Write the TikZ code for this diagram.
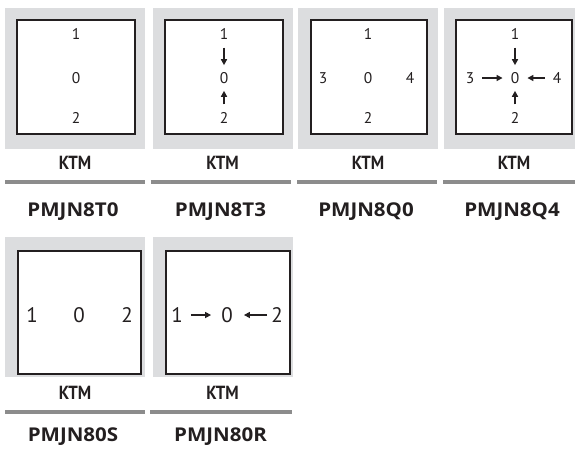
\documentclass[tikz,border=0pt]{standalone}
\usepackage{fontspec}
\setmainfont{PT Sans}
\newfontfamily\codefont[FakeStretch=1.08]{Open Sans}
\newfontfamily\brandfont[FakeStretch=0.88]{PT Sans}
\usetikzlibrary{arrows.meta}
\definecolor{tilegrey}{HTML}{DCDDDF}
\definecolor{rulegrey}{HTML}{8C8C8C}
\definecolor{ink}{HTML}{231F20}
\tikzset{
  tile/.style={fill=tilegrey, draw=none},
  whitebox/.style={fill=white, draw=ink, line width=1.8pt},
  dig/.style={inner sep=0pt, text=ink, font=\fontsize{15.5}{15.5}\selectfont},
  bigdig/.style={inner sep=0pt, text=ink, font=\fontsize{21}{21}\selectfont},
  brand/.style={inner sep=0pt, text=ink, font=\brandfont\fontsize{19}{19}\selectfont\bfseries},
  code/.style={inner sep=0pt, text=ink, font=\codefont\fontsize{19}{19}\selectfont\bfseries},
  baseline rule/.style={draw=rulegrey, line width=4pt},
  arr/.style={-{Triangle[length=6pt,width=6pt]}, draw=ink, line width=1.5pt},
}
\begin{document}
\begin{tikzpicture}[x=1pt,y=-1pt]
\useasboundingbox (0,0) rectangle (575,448);
% ---------- Tile 1 : PMJN8T0
\fill[tile] (5,8) rectangle (145,149);
\draw[whitebox] (17,20) rectangle (135,134);
\node[dig] (a1) at (76,34) {1};
\node[dig] (a0) at (76,78) {0};
\node[dig] (a2) at (76,118) {2};
\node[brand] (ak) at (75,163) {KTM};
\draw[baseline rule] (5,182) -- (145,182);
\node[code] (ac) at (73,212) {PMJN8T0};
% ---------- Tile 2 : PMJN8T3
\fill[tile] (152.5,8) rectangle (292.5,149);
\draw[whitebox] (165,20) rectangle (283,134);
\node[dig] (b1) at (224,34) {1};
\node[dig] (b0) at (224,78) {0};
\node[dig] (b2) at (224,118) {2};
\draw[arr, shorten <=8pt, shorten >=7pt] (b1) -- (b0);
\draw[arr, shorten <=8pt, shorten >=7pt] (b2) -- (b0);
\node[brand] (bk) at (222.5,163) {KTM};
\draw[baseline rule] (150.5,182) -- (291,182);
\node[code] (bc) at (220.5,212) {PMJN8T3};
% ---------- Tile 3 : PMJN8Q0
\fill[tile] (298,8) rectangle (437.5,149);
\draw[whitebox] (311,20) rectangle (427,134);
\node[dig] (c1) at (368,34) {1};
\node[dig] (c0) at (368,78) {0};
\node[dig] (c2) at (368,118) {2};
\node[dig] (c3) at (323,78) {3};
\node[dig] (c4) at (410,78) {4};
\node[brand] (ck) at (368,163) {KTM};
\draw[baseline rule] (297,182) -- (437,182);
\node[code] (cc) at (366,212) {PMJN8Q0};
% ---------- Tile 4 : PMJN8Q4
\fill[tile] (444,8) rectangle (575,149);
\draw[whitebox] (456,20) rectangle (572,134);
\node[dig] (d1) at (515,34) {1};
\node[dig] (d0) at (515,78) {0};
\node[dig] (d2) at (515,118) {2};
\node[dig] (d3) at (470,78) {3};
\node[dig] (d4) at (557,78) {4};
\draw[arr, shorten <=8pt, shorten >=7pt] (d1) -- (d0);
\draw[arr, shorten <=8pt, shorten >=7pt] (d2) -- (d0);
\draw[arr, shorten <=8pt, shorten >=8pt] (d3) -- (d0);
\draw[arr, shorten <=8pt, shorten >=8pt] (d4) -- (d0);
\node[brand] (dk) at (514,163) {KTM};
\draw[baseline rule] (443,182) -- (575,182);
\node[code] (dc) at (512,212) {PMJN8Q4};
% ---------- Tile 5 : PMJN80S
\fill[tile] (5,237) rectangle (145,377);
\draw[whitebox] (18,251) rectangle (141,374);
\node[bigdig] (e1) at (32,315) {1};
\node[bigdig] (e0) at (79,315) {0};
\node[bigdig] (e2) at (127,315) {2};
\node[brand] (ek) at (75,393) {KTM};
\draw[baseline rule] (5,412) -- (145,412);
\node[code] (ec) at (73,437) {PMJN80S};
% ---------- Tile 6 : PMJN80R
\fill[tile] (152.5,237) rectangle (292.5,377);
\draw[whitebox] (166,251) rectangle (290,374);
\node[bigdig] (f1) at (177,315) {1};
\node[bigdig] (f0) at (227,315) {0};
\node[bigdig] (f2) at (277,315) {2};
\draw[arr, shorten <=8pt, shorten >=10pt] (f1) -- (f0);
\draw[arr, shorten <=4pt, shorten >=11pt] (f2) -- (f0);
\node[brand] (fk) at (222.5,393) {KTM};
\draw[baseline rule] (150,412) -- (292,412);
\node[code] (fc) at (220.5,437) {PMJN80R};
\end{tikzpicture}
\end{document}
